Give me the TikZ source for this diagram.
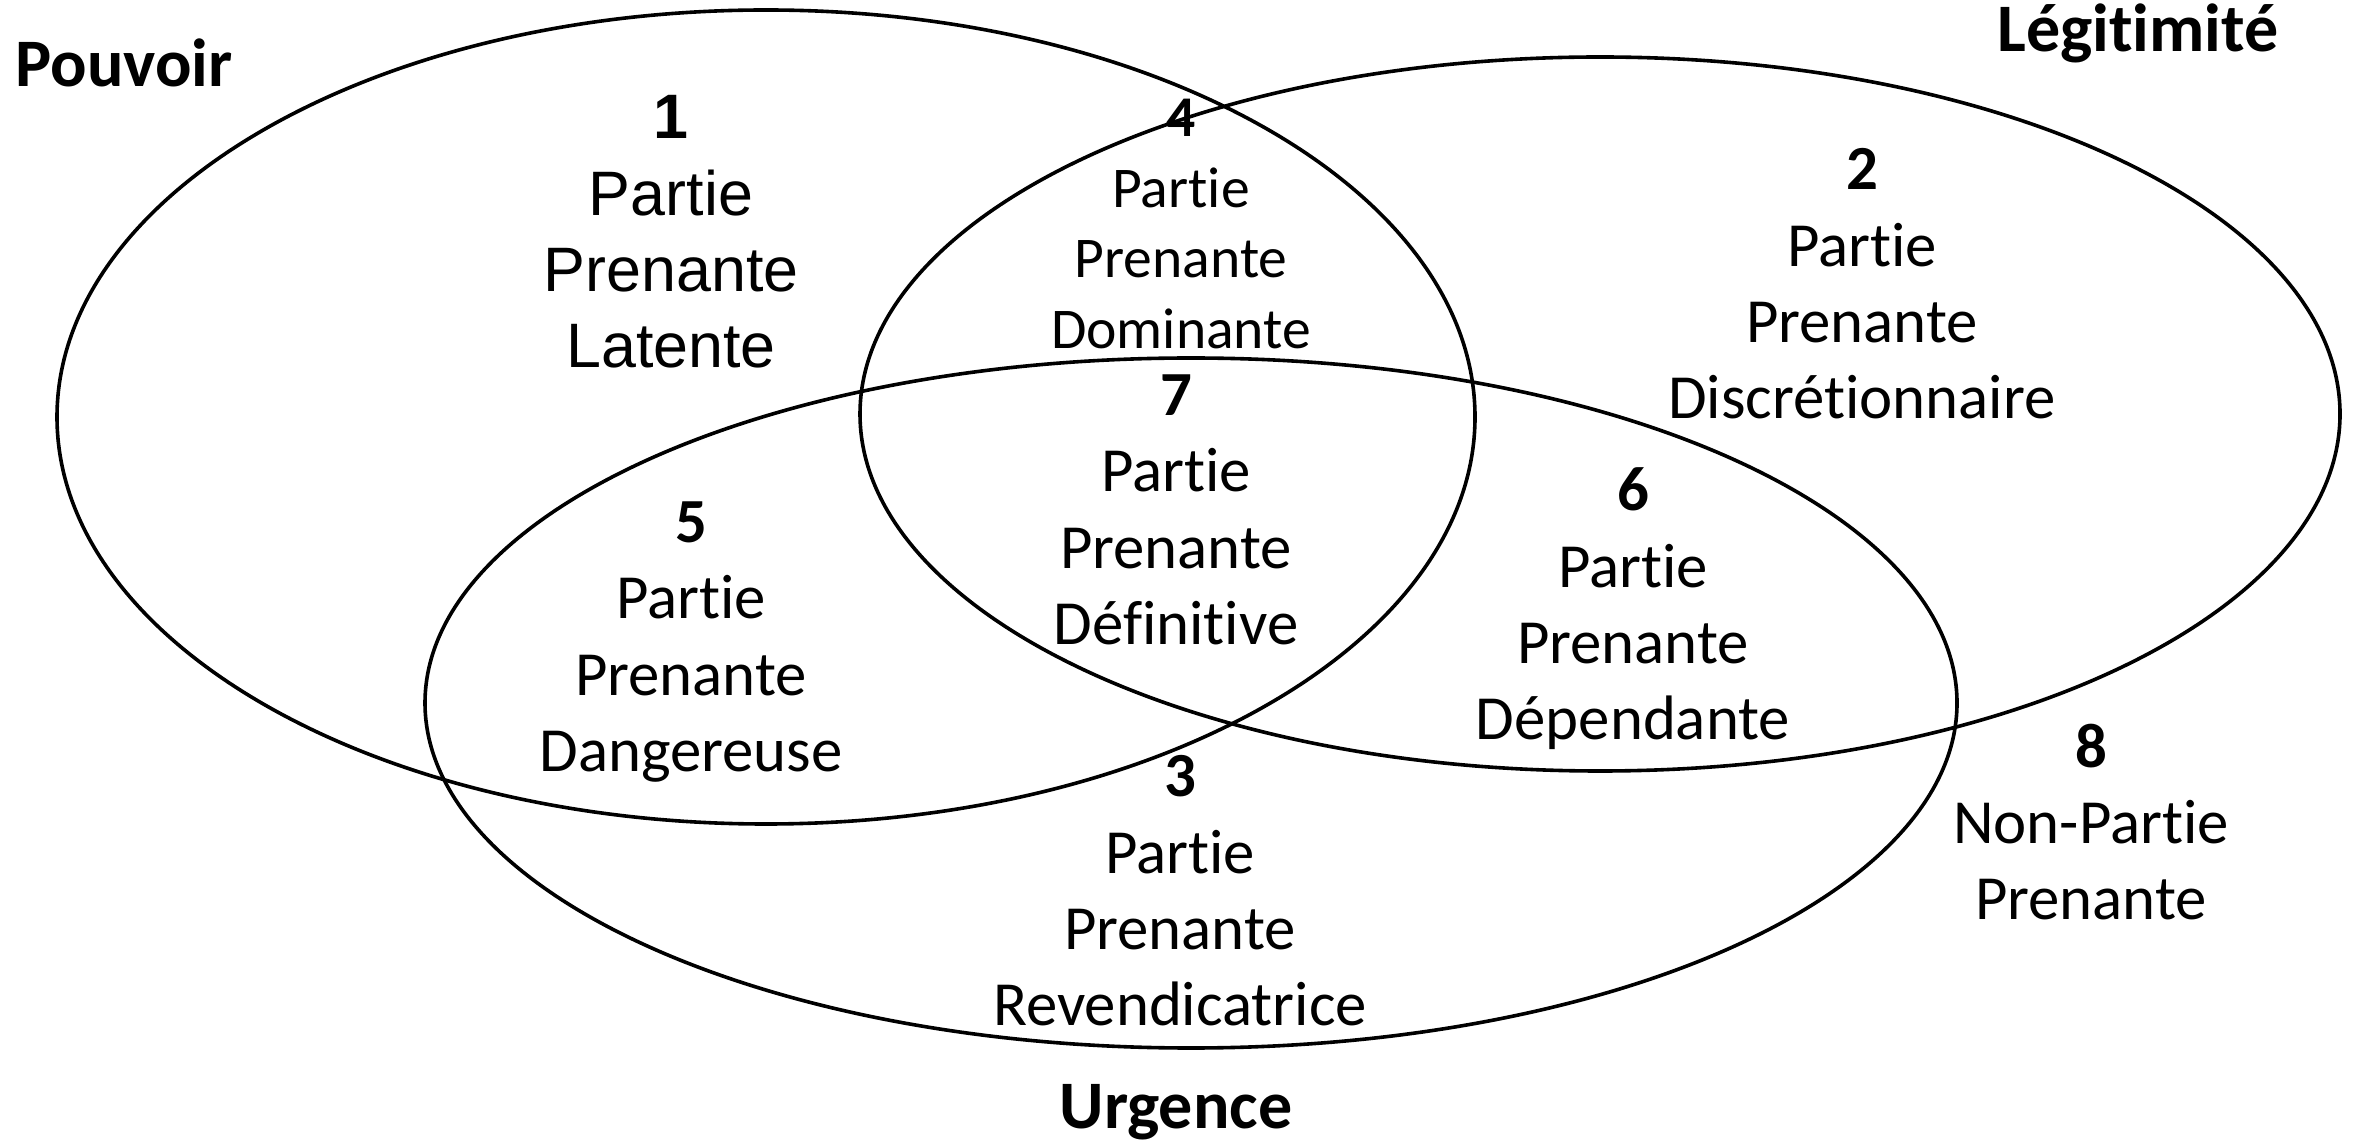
\documentclass[tikz,border=0pt]{standalone}
\usepackage{fontspec}
\setmainfont{Carlito}[Ligatures=NoCommon, Contextuals=NoAlternate]
\newfontfamily\arialfont{Liberation Sans}
\begin{document}
\begin{tikzpicture}[x=0.25pt, y=-0.25pt,
          every node/.style={align=center, inner sep=0pt},
          zone/.style={font=\fontsize{15.7}{19.1}\selectfont},
          titre/.style={font=\fontsize{17}{20}\selectfont\bfseries},
          line width=.9pt]
            \useasboundingbox (0,0) rectangle (2354,1142);

            % les trois attributs
            \draw (766,417)  ellipse (709 and 407);
            \draw (1600,414) ellipse (740 and 357);
            \draw (1191,703) ellipse (766 and 345);

            \node[titre] (pouvoir) at (124,63)    {Pouvoir};
            \node[titre] (legit)   at (2138,33)   {Légitimité};
            \node[titre] (urgence) at (1176,1112) {Urgence};

            \node[zone, font=\arialfont\fontsize{15.7}{19.1}\selectfont] (z1) at (671,232)
              {\textbf{1}\\Partie\\Prenante\\Latente};
            \node[zone] (z2) at (1862,284) {\textbf{2}\\Partie\\Prenante\\Discrétionnaire};
            \node[zone] (z3) at (1180,891) {\textbf{3}\\Partie\\Prenante\\Revendicatrice};
            \node[zone, font=\fontsize{14.4}{17.6}\selectfont] (z4) at (1181,224)
              {\textbf{4}\\Partie\\Prenante\\Dominante};
            \node[zone] (z5) at (691,642)  {\textbf{5}\\Partie\\Prenante\\Dangereuse};
            \node[zone] (z6) at (1633,609) {\textbf{6}\\Partie\\Prenante\\Dépendante};
            \node[zone] (z7) at (1176,510) {\textbf{7}\\Partie\\Prenante\\Définitive};
            \node[zone] (z8) at (2091,822) {\textbf{8}\\Non-Partie\\Prenante};
          \end{tikzpicture}
\end{document}
